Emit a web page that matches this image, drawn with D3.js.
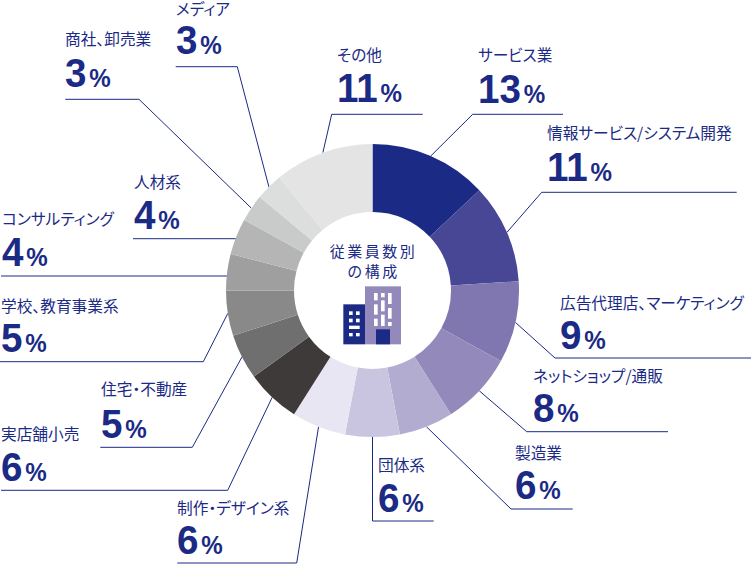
<!DOCTYPE html>
<html>
<head>
<meta charset="utf-8">
<script src="https://cdn.jsdelivr.net/npm/d3@7"></script>
<style>
  html, body { margin: 0; padding: 0; background: #fff; }
  svg { display: block; }
</style>
</head>
<body>
<div id="chart"></div>
<script>
// Clockwise from 12 o'clock
const categories = [
  'サービス業', '情報サービス/システム開発', '広告代理店、マーケティング', 'ネットショップ/通販',
  '製造業', '団体系', '制作・デザイン系', '実店舗小売', '住宅・不動産', '学校、教育事業系',
  'コンサルティング', '人材系', '商社、卸売業', 'メディア', 'その他'
];
const values = [13, 11, 9, 8, 6, 6, 6, 6, 5, 5, 4, 4, 3, 3, 11];
const titleLines = ['従業員数別', 'の構成'];

const colors = [
  '#1a2a85', '#474795', '#8077b0', '#9389bb', '#b2acd1', '#c9c5e1', '#e8e6f3', '#3e3a39',
  '#6f6f6f', '#898989', '#9f9f9f', '#b5b5b6', '#c9caca', '#dcdddd', '#e4e4e4'
];

// Label placement, same order as categories.
// tx: text left, ly/ny: label and number baselines,
// ry: rule y, rx: far end of rule, ex: elbow where the rule turns to the ring
const labelPos = [
  { tx: 478, ly: 61.3, ny: 102.7, ry: 114.3, rx: 563, ex: 472.7 },
  { tx: 547, ly: 138.5, ny: 180.7, ry: 192.3, rx: 736.7, ex: 541.7 },
  { tx: 560, ly: 309, ny: 349, ry: 358, rx: 751, ex: 555 },
  { tx: 533, ly: 381.7, ny: 422.3, ry: 431.7, rx: 668, ex: 526.7 },
  { tx: 515, ly: 459, ny: 499, ry: 509, rx: 572.7, ex: 511 },
  { tx: 378, ly: 471, ny: 512, ry: 521, rx: 433.7, ex: 372.5 },
  { tx: 177, ly: 514, ny: 554, ry: 563, rx: 177.3, ex: 296.7 },
  { tx: 1, ly: 440.3, ny: 481, ry: 490.3, rx: 1, ex: 227.7 },
  { tx: 101, ly: 395.3, ny: 437.7, ry: 447.3, rx: 100.3, ex: 192.3 },
  { tx: 1, ly: 311.7, ny: 351.7, ry: 361.7, rx: 0, ex: 203.3 },
  { tx: 2, ly: 225, ny: 265.7, ry: 276, rx: 1, ex: null },
  { tx: 134, ly: 187.7, ny: 229, ry: 238.7, rx: 133, ex: null },
  { tx: 65, ly: 45.3, ny: 87.3, ry: 99.3, rx: 65.3, ex: 139 },
  { tx: 176, ly: 14.7, ny: 54.3, ry: 66.7, rx: 175.7, ex: 237.3 },
  { tx: 337, ly: 61.3, ny: 101.7, ry: 114.3, rx: 422.7, ex: 331.7 }
];

// Building icon, drawn at 3x then scaled down: [x, y, w, h, fill]
const iconRects = [
  [10, 67, 65, 120, '#1a2a85'],
  [75, 13, 108, 174, '#9389bb'],
  [108, 142, 42, 45, '#1a2a85'],
  [27, 88, 11, 11, '#fff'], [48, 88, 11, 11, '#fff'],
  [27, 110, 11, 11, '#fff'], [48, 110, 11, 11, '#fff'],
  [27, 131, 32, 10, '#fff'],
  [27, 153, 11, 10, '#fff'], [48, 153, 11, 10, '#fff'],
  [102, 33, 11, 22, '#fff'], [102, 67, 11, 31, '#fff'], [102, 110, 11, 22, '#fff'],
  [123, 33, 11, 13, '#fff'], [123, 55, 11, 33, '#fff'], [123, 98, 11, 34, '#fff'],
  [144, 33, 11, 33, '#fff'], [144, 78, 11, 32, '#fff'], [144, 120, 11, 12, '#fff']
];

const width = 751;
const height = 575;
const cx = 372.5;
const cy = 290.5;
const outerR = 146.5;
const innerR = 78.5;
const ink = '#1a2a85';
const jpFont = '"Noto Sans CJK JP", "Noto Sans", sans-serif';
const numFont = '"Liberation Sans", Arial, sans-serif';

const svg = d3.select('#chart').append('svg')
  .attr('width', width)
  .attr('height', height);

const slices = d3.pie().sort(null).value((d) => d)(values);
const arc = d3.arc().innerRadius(innerR).outerRadius(outerR);

// Leader lines go under the ring
const leaders = svg.append('g').attr('fill', 'none').attr('stroke', ink).attr('stroke-width', 1);

slices.forEach((s, i) => {
  const p = labelPos[i];
  const a = (s.startAngle + s.endAngle) / 2;
  const ax = cx + outerR * Math.sin(a);
  const ay = cy - outerR * Math.cos(a);
  const line = d3.path();
  line.moveTo(p.rx, p.ry);
  if (p.ex === null) {
    line.lineTo(ax, p.ry);
  } else {
    line.lineTo(p.ex, p.ry);
    line.lineTo(ax, ay);
  }
  leaders.append('path').attr('d', line.toString());
});

// Ring
svg.append('g')
  .attr('transform', `translate(${cx},${cy})`)
  .selectAll('path')
  .data(slices)
  .enter()
  .append('path')
  .attr('d', arc)
  .attr('fill', (d, i) => colors[i]);

// Labels
const labels = svg.append('g').attr('fill', ink);
categories.forEach((name, i) => {
  const p = labelPos[i];
  labels.append('text')
    .attr('x', p.tx)
    .attr('y', p.ly)
    .attr('font-family', jpFont)
    .attr('font-size', 15.7)
    .style('font-feature-settings', '"palt" 1')
    .text(name);

  // Reference digits are narrower than Liberation, so squeeze horizontally
  const num = labels.append('text')
    .attr('transform', `translate(${p.tx},${p.ny}) scale(0.93,1)`)
    .attr('font-family', numFont)
    .attr('font-weight', 700);
  num.append('tspan').attr('font-size', 41.5).text(values[i]);
  num.append('tspan').attr('font-size', 26).attr('dx', 3).text('%');
});

// Centre title
svg.append('g')
  .attr('fill', ink)
  .attr('font-family', jpFont)
  .attr('font-size', 15)
  .attr('letter-spacing', 2.5)
  .attr('text-anchor', 'middle')
  .selectAll('text')
  .data(titleLines)
  .enter()
  .append('text')
  .attr('x', cx + 1)
  .attr('y', (d, i) => 256.5 + i * 20.5)
  .text((d) => d);

// Building icon
svg.append('g')
  .attr('transform', 'translate(340,282) scale(0.3333)')
  .selectAll('rect')
  .data(iconRects)
  .enter()
  .append('rect')
  .attr('x', (d) => d[0])
  .attr('y', (d) => d[1])
  .attr('width', (d) => d[2])
  .attr('height', (d) => d[3])
  .attr('fill', (d) => d[4]);
</script>
</body>
</html>
